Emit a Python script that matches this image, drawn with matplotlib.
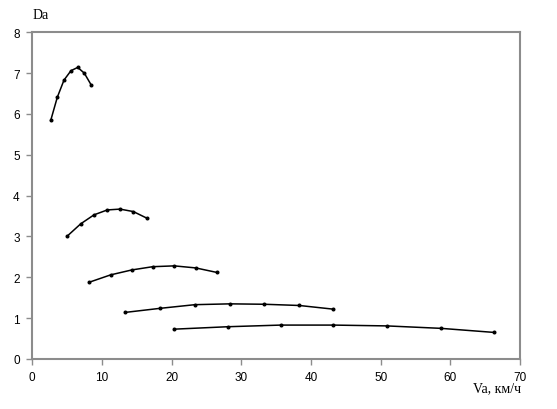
import matplotlib
matplotlib.use("Agg")
import matplotlib.pyplot as plt

# Data (Va in km/h, Da)
va1 = [2.64, 3.59, 4.55, 5.55, 6.52, 7.46, 8.42]
da1 = [5.84, 6.41, 6.83, 7.06, 7.14, 7.00, 6.72]
va2 = [5.02, 6.95, 8.86, 10.77, 12.59, 14.50, 16.42]
da2 = [3.01, 3.31, 3.53, 3.65, 3.67, 3.61, 3.45]
va3 = [8.18, 11.25, 14.27, 17.28, 20.38, 23.45, 26.47]
da3 = [1.88, 2.06, 2.18, 2.26, 2.28, 2.23, 2.12]
va4 = [13.31, 18.33, 23.35, 28.37, 33.30, 38.32, 43.20]
da4 = [1.14, 1.24, 1.33, 1.35, 1.34, 1.31, 1.22]
va5 = [20.34, 28.09, 35.65, 43.20, 50.87, 58.66, 66.31]
da5 = [0.73, 0.79, 0.83, 0.83, 0.81, 0.75, 0.65]

series = [(va1, da1), (va2, da2), (va3, da3), (va4, da4), (va5, da5)]
x_ticks = [0, 10, 20, 30, 40, 50, 60, 70]
y_ticks = [0, 1, 2, 3, 4, 5, 6, 7, 8]

fig = plt.figure(figsize=(5.57, 4.10), dpi=100)
ax = fig.add_axes([0.058, 0.122, 0.8756, 0.7968])

for vx, vy in series:
    ax.plot(vx, vy, color="black", lw=1.1, marker="o", ms=1.9)

ax.set_xlim(0, 70)
ax.set_ylim(0, 8)
ax.set_xticks(x_ticks)
ax.set_yticks(y_ticks)
for s in ax.spines.values():
    s.set_color("#8c8c8c")
    s.set_linewidth(1.5)
ax.tick_params(direction="out", length=4, width=1, color="#8c8c8c",
               labelsize=8.5, pad=5)
for lab in ax.get_xticklabels() + ax.get_yticklabels():
    lab.set_fontfamily("Liberation Sans")

fig.text(0.073, 0.978, "Da", fontfamily="Liberation Serif", fontsize=10,
         ha="center", va="top")
fig.text(0.935, 0.035, "Va, км/ч", fontfamily="Liberation Serif", fontsize=10,
         ha="right", va="bottom")

fig.savefig("out.png", dpi=100)
